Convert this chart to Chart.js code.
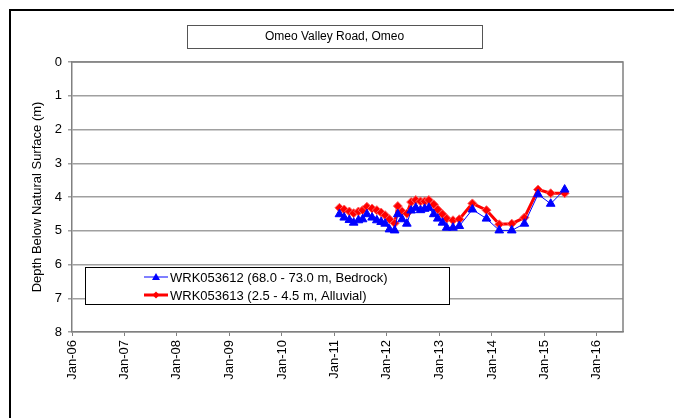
<!DOCTYPE html>
<html>
<head>
<meta charset="utf-8">
<script src="https://cdn.jsdelivr.net/npm/chart.js@4"></script>
<style>
  html, body { margin: 0; padding: 0; background: #fff; }
  #wrap { position: relative; width: 674px; height: 418px; overflow: hidden; }
  #frame { position: absolute; left: 9px; top: 9px; width: 800px; height: 600px; border: 2px solid #000; }
  canvas { position: absolute; left: 0; top: 0; }
</style>
</head>
<body>
<div id="wrap">
  <div id="frame"></div>
  <canvas id="chart" width="674" height="418"></canvas>
</div>
<script>
const title = "Omeo Valley Road, Omeo"
const yTitle = "Depth Below Natural Surface (m)"
const tickYears = [2006, 2007, 2008, 2009, 2010, 2011, 2012, 2013, 2014, 2015, 2016]
const tickLabels = ["Jan-06", "Jan-07", "Jan-08", "Jan-09", "Jan-10", "Jan-11", "Jan-12", "Jan-13", "Jan-14", "Jan-15", "Jan-16"]

const dates = [
  "2011-02-05", "2011-03-10", "2011-04-15", "2011-05-15", "2011-06-17", "2011-07-16",
  "2011-08-15", "2011-09-20", "2011-10-23", "2011-11-22", "2011-12-20", "2012-01-19",
  "2012-02-24", "2012-03-17", "2012-04-16", "2012-05-19", "2012-06-18", "2012-07-20",
  "2012-08-22", "2012-09-20", "2012-10-19", "2012-11-22", "2012-12-20", "2013-01-22",
  "2013-02-20", "2013-04-05", "2013-05-19", "2013-08-18", "2013-11-24", "2014-02-21",
  "2014-05-19", "2014-08-15", "2014-11-18", "2015-02-14", "2015-05-22"
]
const bedrock = [
  4.51, 4.61, 4.68, 4.76, 4.69, 4.66, 4.51, 4.61, 4.69, 4.74, 4.79, 4.96,
  4.99, 4.51, 4.66, 4.79, 4.40, 4.32, 4.39, 4.35, 4.32, 4.51, 4.64, 4.76,
  4.91, 4.91, 4.86, 4.37, 4.64, 4.99, 4.99, 4.79, 3.92, 4.20, 3.78
]
const alluvial = [
  4.32, 4.37, 4.43, 4.48, 4.43, 4.39, 4.29, 4.34, 4.39, 4.46, 4.54, 4.66,
  4.78, 4.27, 4.43, 4.49, 4.15, 4.09, 4.13, 4.13, 4.09, 4.22, 4.37, 4.51,
  4.64, 4.69, 4.66, 4.19, 4.39, 4.81, 4.79, 4.61, 3.78, 3.89, 3.89
]

const FONT = "'Liberation Sans', Arial, sans-serif"
Chart.defaults.font.family = FONT
Chart.defaults.color = "#000"

const toPoints = vals => vals.map((v, i) => ({ x: Date.parse(dates[i] + "T00:00:00Z"), y: v }))

// plot border, title box and legend box
const extras = {
  id: "extras",
  beforeDatasetsDraw(chart) {
    const { ctx, chartArea: a } = chart
    ctx.save()
    ctx.strokeStyle = "#808080"
    ctx.lineWidth = 1.5
    ctx.beginPath()
    ctx.moveTo(a.left, a.top)
    ctx.lineTo(a.right, a.top)
    ctx.lineTo(a.right, a.bottom)
    ctx.stroke()
    ctx.restore()
  },
  afterDraw(chart) {
    const { ctx } = chart
    ctx.save()
    // title box
    ctx.fillStyle = "#fff"
    ctx.fillRect(187, 25, 295, 23)
    ctx.strokeStyle = "#555"
    ctx.lineWidth = 1
    ctx.strokeRect(187.5, 25.5, 295, 23)
    ctx.fillStyle = "#000"
    ctx.font = "12px " + FONT
    ctx.textAlign = "center"
    ctx.textBaseline = "middle"
    ctx.fillText(title, 334.5, 37)

    // legend box
    ctx.fillStyle = "#fff"
    ctx.fillRect(85, 267, 364, 37)
    ctx.strokeStyle = "#000"
    ctx.strokeRect(85.5, 267.5, 364, 37)
    ctx.textAlign = "left"
    ctx.font = "13px " + FONT
    chart.data.datasets.forEach((ds, i) => {
      const y = 277 + i * 18
      ctx.strokeStyle = ds.borderColor
      ctx.lineWidth = ds.borderWidth
      ctx.beginPath()
      ctx.moveTo(144, y)
      ctx.lineTo(168, y)
      ctx.stroke()
      ctx.fillStyle = ds.pointBackgroundColor
      ctx.beginPath()
      if (ds.pointStyle === "triangle") {
        ctx.moveTo(156, y - 4)
        ctx.lineTo(160, y + 3)
        ctx.lineTo(152, y + 3)
      } else {
        ctx.moveTo(156, y - 3.5)
        ctx.lineTo(159.5, y)
        ctx.lineTo(156, y + 3.5)
        ctx.lineTo(152.5, y)
      }
      ctx.closePath()
      ctx.fill()
      ctx.fillStyle = "#000"
      ctx.fillText(ds.label, 170, y + 1)
    })
    ctx.restore()
  }
}

new Chart(document.getElementById("chart"), {
  type: "line",
  data: {
    datasets: [
      {
        label: "WRK053612 (68.0 - 73.0 m, Bedrock)",
        data: toPoints(bedrock),
        borderColor: "#0000ff",
        pointBackgroundColor: "#0000ff",
        pointBorderColor: "#0000ff",
        borderWidth: 1,
        pointStyle: "triangle",
        pointRadius: 5,
        pointBorderWidth: 1,
        tension: 0
      },
      {
        label: "WRK053613 (2.5 - 4.5 m, Alluvial)",
        data: toPoints(alluvial),
        borderColor: "#ff0000",
        pointBackgroundColor: "#ff0000",
        pointBorderColor: "#ff6060",
        borderWidth: 3,
        pointStyle: "rectRot",
        pointRadius: 4.5,
        pointBorderWidth: 1,
        tension: 0
      }
    ]
  },
  options: {
    responsive: false,
    animation: false,
    layout: { padding: { left: 12, top: 62, right: 51, bottom: 0 } },
    plugins: { legend: { display: false }, tooltip: { enabled: false } },
    scales: {
      x: {
        type: "linear",
        min: Date.UTC(2006, 0, 1),
        max: Date.UTC(2016, 6, 1),
        afterBuildTicks: s => { s.ticks = tickYears.map(y => ({ value: Date.UTC(y, 0, 1) })) },
        afterFit: s => { s.height = 86 },
        grid: { drawOnChartArea: false, color: "#808080", tickLength: 4 },
        border: { color: "#808080", width: 1.5 },
        ticks: {
          autoSkip: false,
          minRotation: 90,
          maxRotation: 90,
          padding: 4,
          font: { size: 13 },
          callback: v => tickLabels[tickYears.indexOf(new Date(v).getUTCFullYear())]
        }
      },
      y: {
        reverse: true,
        min: 0,
        max: 8,
        afterFit: s => { s.width = 60 },
        grid: { color: "#a0a0a0", lineWidth: 1.5, tickLength: 4 },
        border: { color: "#808080", width: 1.5 },
        ticks: { stepSize: 1, padding: 6, font: { size: 13 } },
        title: { display: true, text: yTitle, font: { size: 13 }, padding: { top: 18, bottom: 0 } }
      }
    }
  },
  plugins: [extras]
})
</script>
</body>
</html>
